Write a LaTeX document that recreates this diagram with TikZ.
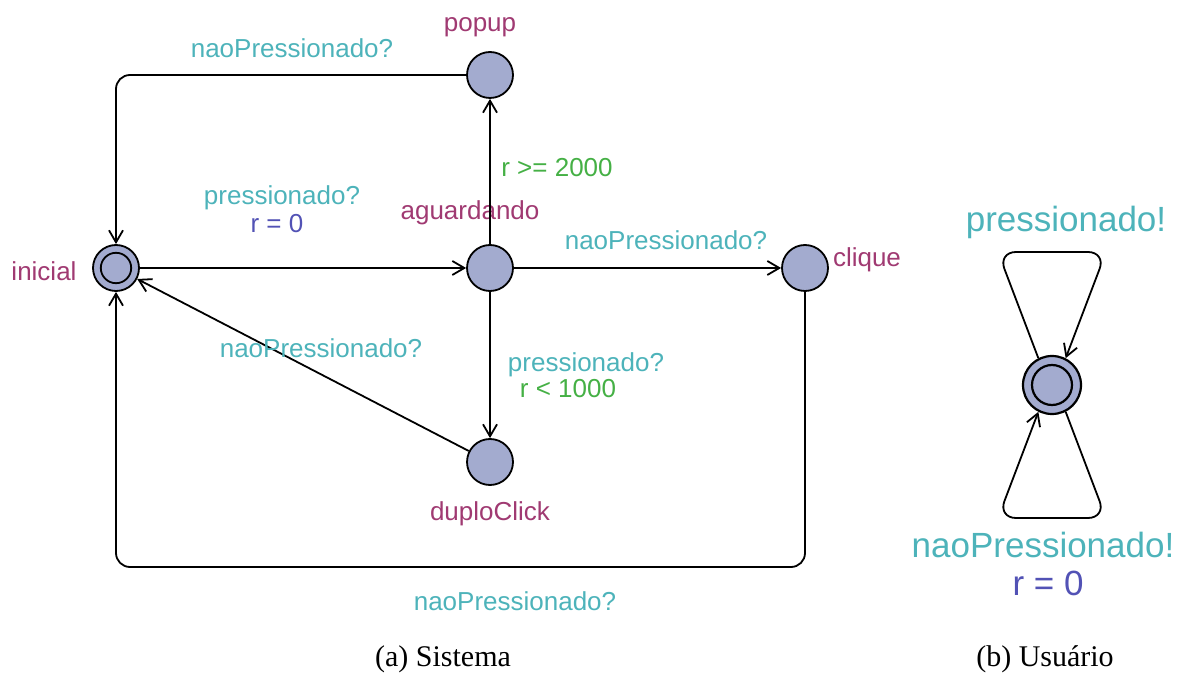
\documentclass[tikz,border=0pt]{standalone}
\usepackage{fontspec}
\setmainfont{Liberation Serif}
\newfontfamily\uppfont{Liberation Sans}
\usetikzlibrary{arrows.meta}
\definecolor{locfill}{HTML}{A3ABCF}
\definecolor{locname}{HTML}{A03A72}
\definecolor{synccol}{HTML}{4DB3BA}
\definecolor{assigncol}{HTML}{5252B5}
\definecolor{guardcol}{HTML}{45B045}
\begin{document}
\begin{tikzpicture}[x=0.5pt, y=-0.5pt,
    loc/.style={circle, draw, fill=locfill, line width=0.9pt, minimum size=23pt, inner sep=0pt},
    bigloc/.style={loc, minimum size=29pt, line width=1.1pt},
    trans/.style={line width=0.9pt, rounded corners=7pt, -{Straight Barb[length=6pt,width=7pt]}},
    txt/.style={anchor=base, inner sep=0pt, font=\uppfont\fontsize{13}{15}\selectfont},
    bigtxt/.style={anchor=base, inner sep=0pt, font=\uppfont\fontsize{17.5}{20}\selectfont},
    locname/.style={txt, text=locname},
    sync/.style={txt, text=synccol},
    assign/.style={txt, text=assigncol},
    guard/.style={txt, text=guardcol},
    caption/.style={anchor=base, inner sep=0pt, font=\fontsize{15}{18}\selectfont}]
    \useasboundingbox (0,0) rectangle (1178,673);
    % (a) Sistema
    \node [loc] (inicial) at (116,268) {};
    \node [loc] (aguardando) at (490,268) {};
    \node [loc] (popup) at (490,75) {};
    \node [loc] (clique) at (805,268) {};
    \node [loc] (duploClick) at (490,462) {};
    \draw [line width=0.9pt] (inicial) circle (7.6pt);
    \node [locname] (n-inicial) at (44,281) {inicial};
    \node [locname] (n-aguardando) at (470,220) {aguardando};
    \node [locname] (n-popup) at (480,32) {popup};
    \node [locname] (n-clique) at (867,267) {clique};
    \node [locname] (n-duplo) at (490,520) {duploClick};
    \coordinate (bl) at (116,567);
    \draw [trans] (popup.west) -| (inicial.north);
    \draw [trans] (inicial) -- (aguardando);
    \draw [trans] (aguardando) -- (popup);
    \draw [trans] (aguardando) -- (clique);
    \draw [trans] (aguardando) -- (duploClick);
    \draw [trans] (duploClick) -- (inicial);
    \draw [trans] (clique.south) |- (bl) -- (inicial.south);
    \node [sync] (s1) at (292,58) {naoPressionado?};
    \node [sync] (s2) at (282,205) {pressionado?};
    \node [assign] (a2) at (277,233) {r = 0};
    \node [guard] (g3) at (557,177) {r >= 2000};
    \node [sync] (s4) at (666,250) {naoPressionado?};
    \node [sync] (s5) at (586,372) {pressionado?};
    \node [guard] (g5) at (568,398) {r < 1000};
    \node [sync] (s6) at (321,358) {naoPressionado?};
    \node [sync] (s7) at (515,610) {naoPressionado?};
    % (b) Usuario
    \node [bigloc] (usr) at (1052,385) {};
    \draw [line width=1.1pt] (usr) circle (10pt);
    \coordinate (tl) at (998,252);
    \coordinate (tr) at (1106,252);
    \coordinate (bl2) at (998,518);
    \coordinate (br2) at (1106,518);
    \draw [trans, rounded corners=9pt] (usr.117) -- (tl) -- (tr) -- (usr.63);
    \draw [trans, rounded corners=9pt] (usr.-63) -- (br2) -- (bl2) -- (usr.-117);
    \node [bigtxt, text=synccol] (s8) at (1066,232) {pressionado!};
    \node [bigtxt, text=synccol] (s9) at (1043,557) {naoPressionado!};
    \node [bigtxt, text=assigncol] (a9) at (1048,595) {r = 0};
    % captions
    \node [caption] (capa) at (443,666) {(a) Sistema};
    \node [caption] (capb) at (1045,666) {(b) Usuário};
\end{tikzpicture}
\end{document}
